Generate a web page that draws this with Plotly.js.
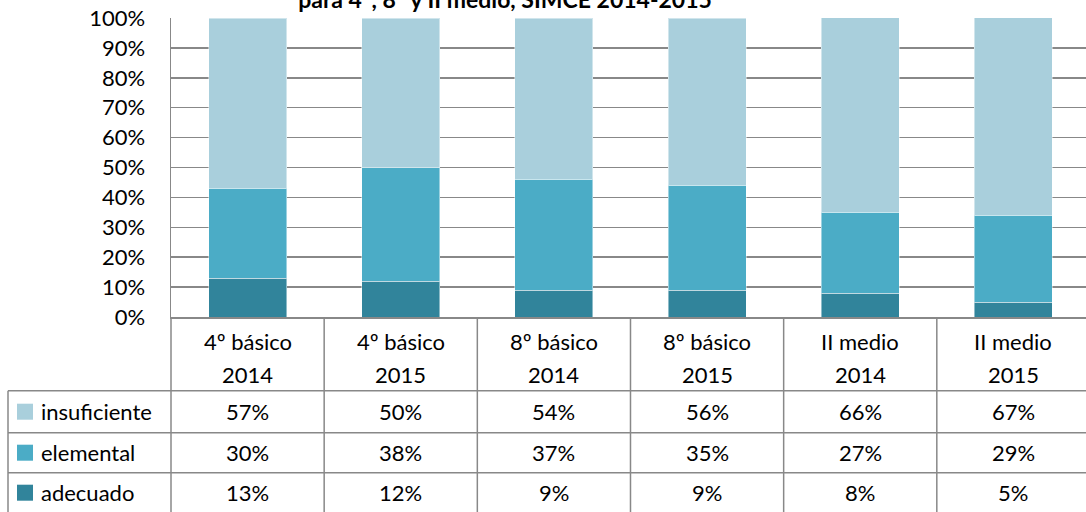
<!DOCTYPE html>
<html>
<head>
<meta charset="utf-8">
<script src="https://cdn.plot.ly/plotly-3.0.1.min.js"></script>
<style>html,body{margin:0;padding:0;background:#fff;}#chart{width:1086px;height:512px;}</style>
</head>
<body>
<div id="chart"></div>
<script>
// ---- data ----
const levels = ['4º básico', '4º básico', '8º básico', '8º básico', 'II medio', 'II medio'];
const years = ['2014', '2015', '2014', '2015', '2014', '2015'];
const seriesNames = ['insuficiente', 'elemental', 'adecuado'];
const insuficiente = [57, 50, 54, 56, 66, 67];
const elemental = [30, 38, 37, 35, 27, 29];
const adecuado = [13, 12, 9, 9, 8, 5];
const yTicks = [0, 10, 20, 30, 40, 50, 60, 70, 80, 90, 100];
const titleText = 'para 4°, 8° y II medio, SIMCE 2014-2015';

// ---- styling ----
const FONT = 'Lato, "Open Sans", sans-serif';
const colors = {insuficiente: '#A9CFDC', elemental: '#4BACC6', adecuado: '#31849B'};
const gridColor = '#888888';
const categories = levels.map((l, i) => l + ' ' + years[i]);

const W = 1086, H = 512;
const mL = 171, mT = 18, mB = 195;
const plotH = H - mT - mB;
const xMin = -0.5, xMax = 5.474;
const pxToPaperY = py => (H - mB - py) / plotH;
const pxToPaperX = px => (px - mL) / (W - mL);

const barTrace = (name, vals) => ({
  type: 'bar', name: name, x: categories, y: vals,
  marker: {color: colors[name], line: {color: 'rgba(255,255,255,0.45)', width: 1}},
  hoverinfo: 'skip'
});

const traces = [
  barTrace('adecuado', adecuado),
  barTrace('elemental', elemental),
  barTrace('insuficiente', insuficiente)
];

// ---- table geometry ----
const rowLinesPx = [390.7, 432.7, 472.7];
const headerTop = 317;
const tableLeftPx = 8;
const shapes = [];
const lineStyle = {color: gridColor, width: 1.5};
for (let k = 0; k <= categories.length; k++) {
  const xp = (k - 0.5 - xMin) / (xMax - xMin);
  shapes.push({type: 'line', xref: 'paper', yref: 'paper', x0: xp, x1: xp,
    y0: pxToPaperY(headerTop), y1: pxToPaperY(H + 5), line: lineStyle});
}
rowLinesPx.forEach(py => {
  shapes.push({type: 'line', xref: 'paper', yref: 'paper',
    x0: pxToPaperX(tableLeftPx), x1: 1.01, y0: pxToPaperY(py), y1: pxToPaperY(py), line: lineStyle});
});
shapes.push({type: 'line', xref: 'paper', yref: 'paper',
  x0: pxToPaperX(tableLeftPx), x1: pxToPaperX(tableLeftPx),
  y0: pxToPaperY(rowLinesPx[0]), y1: pxToPaperY(H + 5), line: lineStyle});

const annotations = [];
const txtFont = {family: FONT, size: 22, color: '#000'};
categories.forEach((c, i) => {
  annotations.push({xref: 'x', yref: 'paper', x: c, y: pxToPaperY(341), text: levels[i],
    showarrow: false, xanchor: 'center', yanchor: 'middle', font: txtFont});
  annotations.push({xref: 'x', yref: 'paper', x: c, y: pxToPaperY(374), text: years[i],
    showarrow: false, xanchor: 'center', yanchor: 'middle', font: txtFont});
});
const tableRows = [insuficiente, elemental, adecuado];
tableRows.forEach((vals, r) => {
  const yc = (rowLinesPx[r] + (rowLinesPx[r + 1] || rowLinesPx[r] + 40)) / 2;
  vals.forEach((v, i) => {
    annotations.push({xref: 'x', yref: 'paper', x: categories[i], y: pxToPaperY(yc), text: v + '%',
      showarrow: false, xanchor: 'center', yanchor: 'middle', font: txtFont});
  });
  const name = seriesNames[r];
  shapes.push({type: 'rect', xref: 'paper', yref: 'paper',
    x0: pxToPaperX(17), x1: pxToPaperX(33), y0: pxToPaperY(yc - 8), y1: pxToPaperY(yc + 8),
    fillcolor: colors[name], line: {width: 0}});
  annotations.push({xref: 'paper', yref: 'paper', x: pxToPaperX(39), y: pxToPaperY(yc), text: name,
    showarrow: false, xanchor: 'left', yanchor: 'middle', font: txtFont});
});

const layout = {
  width: W, height: H,
  margin: {l: mL, r: 0, t: mT, b: mB, pad: 0},
  paper_bgcolor: '#fff', plot_bgcolor: '#fff',
  barmode: 'stack', bargap: 0.49,
  showlegend: false,
  title: {text: '<b>' + titleText + '</b>', font: {family: FONT, size: 23, color: '#000'},
    xref: 'container', x: 505 / W, xanchor: 'center', yref: 'container', y: 1, yanchor: 'middle'},
  xaxis: {type: 'category', range: [xMin, xMax], showticklabels: false, ticks: '',
    showgrid: false, zeroline: false, showline: true, linecolor: gridColor, linewidth: 1.5, fixedrange: true},
  yaxis: {range: [0, 100], tickvals: yTicks, ticktext: yTicks.map(t => t + '%'),
    showgrid: true, gridcolor: gridColor, gridwidth: 1.5, zeroline: false,
    showline: true, linecolor: gridColor, linewidth: 1.5, ticks: '',
    ticklabelstandoff: 20, tickfont: {family: FONT, size: 22, color: '#000'}, fixedrange: true},
  shapes: shapes,
  annotations: annotations
};

Plotly.newPlot('chart', traces, layout, {displayModeBar: false, staticPlot: true});
</script>
</body>
</html>
